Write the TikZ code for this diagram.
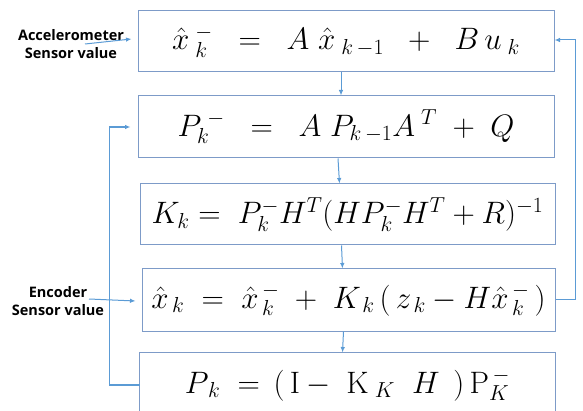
\RequirePackage{fix-cm}
\documentclass[tikz,border=0pt]{standalone}
\usepackage[no-math]{fontspec}
\setmainfont{Liberation Serif}
\newfontfamily\labelfont{Open Sans}
\usetikzlibrary{arrows.meta}
\definecolor{boxc}{RGB}{125,155,200}
\definecolor{arrc}{RGB}{91,155,213}
\tikzset{
  eqbox/.style={draw=boxc, line width=1pt, inner sep=0pt, font=\fontsize{31}{36}\selectfont},
  arr/.style={draw=arrc, line width=1pt, -{Latex[length=5.5pt,width=4.5pt]}},
  flow/.style={draw=arrc, line width=1.3pt, -{Latex[length=5.5pt,width=4.5pt]}},
  sensor/.style={font=\labelfont\bfseries\fontsize{14.5}{18}\selectfont, align=center, inner sep=0pt}
}
\begin{document}
\begin{tikzpicture}[x=1pt,y=-1pt]
\useasboundingbox (0,0) rectangle (583,411);
\node[eqbox, minimum width=416pt, minimum height=61pt] (b1) at (346,41.5)
  {$\hat{x}^{\;-}_{\;k}\;\;=\;\;A\;\hat{x}_{\;k\,-1}\;\;+\;\;B\,u_{\;k}$};
\node[eqbox, minimum width=416pt, minimum height=62pt] (b2) at (346,127)
  {$P^{\;-}_{k}\;\;=\;\;A\;P_{k\,-1}A^{\;T}\;+\;Q$};
\node[eqbox, minimum width=415pt, minimum height=61pt] (b3) at (347.5,214.5)
  {$K_k=\;P^-_kH^T(HP^-_kH^T+R)^{-1}$};
\node[eqbox, minimum width=413pt, minimum height=62pt] (b4) at (348.5,300)
  {$\hat{x}_{\,k}\;=\;\hat{x}^{\,-}_{\,k}\;+\;K_{\,k}\,(\,z_{\,k}-H\hat{x}^{\,-}_{\,k}\,)$};
\node[eqbox, draw=none, minimum width=415pt, minimum height=64pt] (b5) at (347.5,385)
  {$P_{\,k}\;=\,(\,\mathrm{I}-\;\mathrm{K}_{\;K}\;\;H\;\,)\,\mathrm{P}^{\,-}_{K}$};
\draw[boxc, line width=1pt] (b5.south west) -- (b5.north west) -- (b5.north east) -- (b5.south east);
% vertical flow
\draw[arr] ([xshift=-5pt]b1.south) -- ([xshift=-5pt]b2.north);
\draw[arr] ([xshift=-8pt]b2.south) -- ([xshift=-8pt]b3.north);
\draw[arr] ([xshift=-6pt]b3.south) -- ([xshift=-6pt]b4.north);
\draw[arr] ([xshift=-5pt]b4.south) -- ([xshift=-5pt]b5.north);
% feedback loops
\draw[flow] (b5.west) -- ++(-30,0) |- ([xshift=-7pt]b2.west);
\draw[arr] (b4.east) -- ++(20,0) |- ([yshift=1.5pt]b1.east);
% sensor labels
\node[sensor] (acc) at (71,44) {Accelerometer\\Sensor value};
\coordinate (accs) at (85,44);
\draw[arr] (accs) -- ([xshift=-6pt,yshift=2.5pt]b1.west);
\node[sensor] (enc) at (58,301) {Encoder\\Sensor value};
\coordinate (encs) at (89,299);
\draw[arr] (encs) -- ([xshift=-6pt,yshift=-1pt]b4.west);
\end{tikzpicture}
\end{document}
